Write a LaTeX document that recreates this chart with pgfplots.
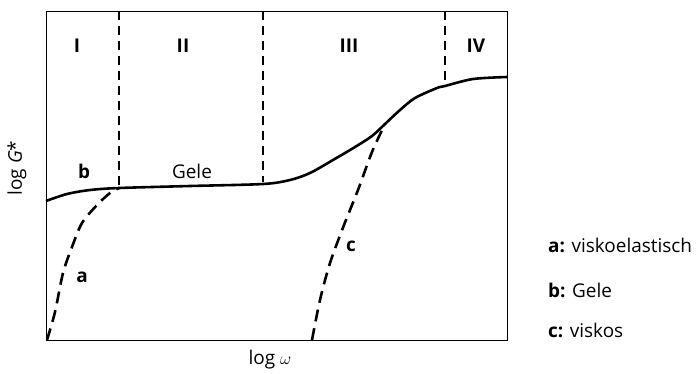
\documentclass[border=0pt]{standalone}
\usepackage{fontspec}
\setmainfont{Open Sans}
\usepackage{pgfplots}
\pgfplotsset{compat=1.18}
\begin{document}
\begin{tikzpicture}[x=1bp,y=1bp]
\begin{axis}[
  at={(46bp,-340bp)}, anchor=south west,
  scale only axis, width=461bp, height=329bp,
  xmin=46, xmax=507, ymin=11, ymax=340, y dir=reverse,
  axis line style={line width=1pt},
  xtick=\empty, ytick=\empty,
  clip=false,
]
% frame of the whole picture
\path (axis cs:0,0) rectangle (axis cs:696,374);

% region boundaries
\addplot[black, line width=1.2pt, dash pattern=on 9bp off 6bp] coordinates {(119,11) (119,187)};
\addplot[black, line width=1.2pt, dash pattern=on 9bp off 6bp] coordinates {(263,11) (263,182)};
\addplot[black, line width=1.2pt, dash pattern=on 9bp off 6bp] coordinates {(445,11) (445,85)};

% b: gel
\addplot[black, line width=2.6pt, smooth, tension=0.5] coordinates {
 (46,201) (67,194) (90,190) (119,188) (190,186) (263,184) (290,180) (310,173)
 (333,160) (355,147) (372,136) (385,124) (400,110) (415,98) (437,88) (445,86)
 (473,79) (507,77)};

% a: viscoelastic
\addplot[black, line width=2.6pt, smooth, tension=0.5, dash pattern=on 12bp off 7bp] coordinates {
 (47,340) (55,312) (63,273) (72,247) (82,223) (97,205) (110,193) (119,188)};

% c: viscous
\addplot[black, line width=2.6pt, smooth, tension=0.5, dash pattern=on 12bp off 7bp] coordinates {
 (312,340) (320,300) (330,263) (344,225) (358,190) (372,152) (385,124)};

\begin{scope}[every node/.style={font=\fontsize{19}{22}\selectfont}]
\node at (axis cs:77,46) {\textbf{I}};
\node at (axis cs:183,46) {\textbf{II}};
\node at (axis cs:349,46) {\textbf{III}};
\node at (axis cs:476,46) {\textbf{IV}};
\node at (axis cs:84,171) {\textbf{b}};
\node at (axis cs:192,171) {Gele};
\node at (axis cs:82,277) {\textbf{a}};
\node at (axis cs:351,246) {\textbf{c}};

\node[anchor=west, inner sep=0pt] at (axis cs:548,245) {\textbf{a:} viskoelastisch};
\node[anchor=west, inner sep=0pt] at (axis cs:548,290) {\textbf{b:} Gele};
\node[anchor=west, inner sep=0pt] at (axis cs:548,330) {\textbf{c:} viskos};

\node at (axis cs:270,360) {log $\omega$};
\node[rotate=90] at (axis cs:17,168) {log \textit{G}*};
\end{scope}
\end{axis}
\end{tikzpicture}
\end{document}
